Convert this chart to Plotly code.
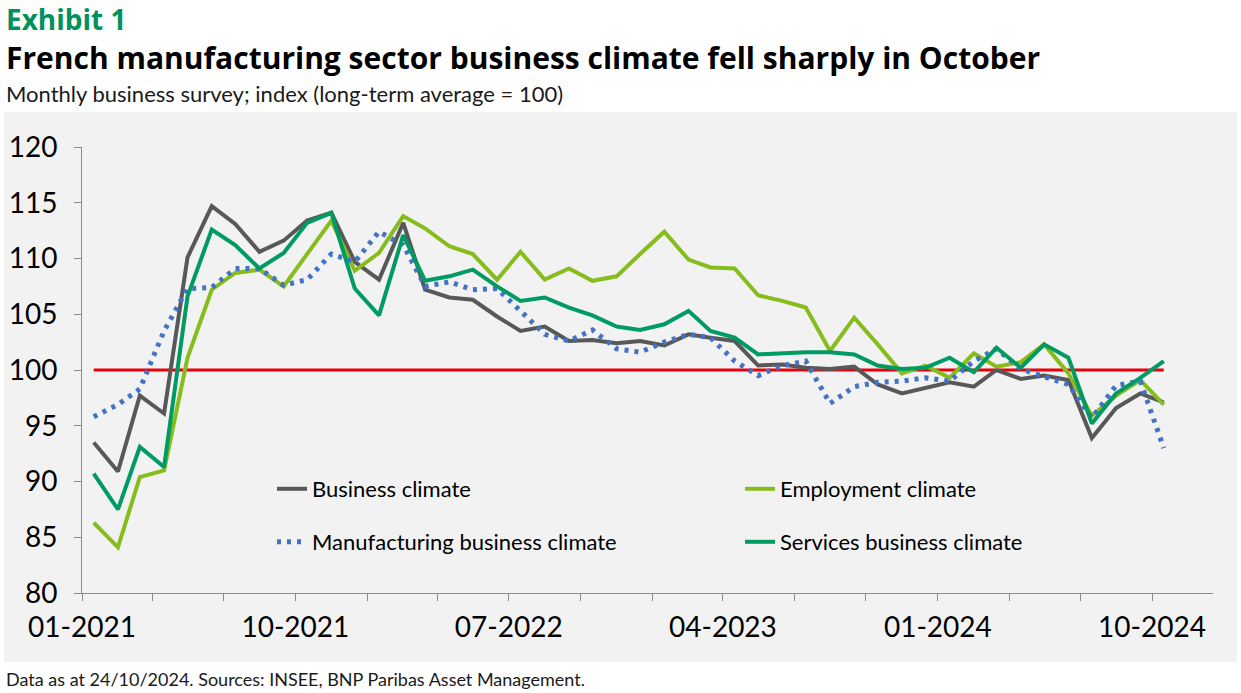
import pandas as pd
import plotly.graph_objects as go

# monthly survey, 01-2021 .. 10-2024
months = pd.date_range("2021-01-01", "2024-10-01", freq="MS")

business = [93.5, 90.9, 97.7, 96.1, 110.1, 114.7, 113.1, 110.6, 111.6, 113.4,
            114.1, 109.7, 108.1, 113.2, 107.2, 106.5, 106.3, 104.8, 103.5, 103.9,
            102.6, 102.7, 102.4, 102.6, 102.2, 103.2, 102.9, 102.6, 100.4, 100.5,
            100.2, 100.1, 100.3, 98.7, 97.9, 98.4, 98.9, 98.5, 100.0, 99.2,
            99.5, 99.1, 93.9, 96.6, 97.9, 97.1]
employment = [86.3, 84.1, 90.4, 91.0, 101.1, 107.2, 108.7, 109.0, 107.5, 110.4,
              113.4, 108.9, 110.5, 113.8, 112.7, 111.1, 110.4, 108.1, 110.6, 108.1,
              109.1, 108.0, 108.4, 110.4, 112.4, 109.9, 109.2, 109.1, 106.7, 106.2,
              105.6, 101.7, 104.7, 102.3, 99.7, 100.4, 99.3, 101.5, 100.3, 100.7,
              102.3, 99.7, 95.9, 97.7, 99.1, 96.9]
manufacturing = [95.8, 96.9, 98.3, 103.5, 107.3, 107.4, 109.1, 109.1, 107.6, 108.1,
                 110.4, 109.7, 112.4, 111.2, 107.5, 107.9, 107.2, 107.3, 105.3, 103.2,
                 102.6, 103.6, 101.9, 101.6, 102.5, 103.2, 102.9, 100.8, 99.5, 100.4,
                 100.8, 97.0, 98.5, 98.9, 99.0, 99.3, 99.0, 100.8, 101.9, 100.1,
                 99.4, 98.7, 95.7, 98.6, 99.0, 93.0]
services = [90.7, 87.5, 93.1, 91.3, 106.6, 112.6, 111.2, 109.1, 110.5, 113.2,
            114.1, 107.3, 104.9, 112.1, 108.0, 108.4, 109.0, 107.5, 106.2, 106.5,
            105.6, 104.9, 103.9, 103.6, 104.1, 105.3, 103.5, 102.9, 101.4, 101.5,
            101.6, 101.6, 101.4, 100.4, 100.1, 100.2, 101.1, 99.8, 102.0, 100.2,
            102.3, 101.1, 95.2, 97.9, 99.3, 100.8]
long_term_avg = 100

tick_dates = pd.date_range("2021-01-01", "2024-10-01", freq="3MS")
tick_text = [d.strftime("%m-%Y") if i % 3 == 0 else "" for i, d in enumerate(tick_dates)]

FONT = "Lato"
HEAD_FONT = "Open Sans"
W, H = 1241, 693
L, R, T, B = 82, 28, 147, 100
PW, PH = W - L - R, H - T - B


def px(x):
    return (x - L) / PW


def py(y):
    return (H - B - y) / PH


# points sit in the middle of their month (excel date axis look)
x = months + pd.Timedelta(days=15)

fig = go.Figure()
fig.add_trace(go.Scatter(x=x, y=[long_term_avg] * len(x), mode="lines",
                         line=dict(color="#E8000B", width=3), showlegend=False,
                         hoverinfo="skip"))
fig.add_trace(go.Scatter(x=x, y=business, mode="lines", name="Business climate",
                         line=dict(color="#58585A", width=4), legend="legend"))
fig.add_trace(go.Scatter(x=x, y=employment, mode="lines", name="Employment climate",
                         line=dict(color="#86BC1C", width=4), legend="legend"))
fig.add_trace(go.Scatter(x=x, y=manufacturing, mode="lines", name="Manufacturing business climate",
                         line=dict(color="#4472C4", width=5, dash="4px,6px"), legend="legend2"))
fig.add_trace(go.Scatter(x=x, y=services, mode="lines", name="Services business climate",
                         line=dict(color="#009A63", width=4), legend="legend2"))

legend_style = dict(orientation="h", xanchor="left", yanchor="middle",
                    bgcolor="rgba(0,0,0,0)", entrywidth=423, entrywidthmode="pixels",
                    font=dict(family=FONT, size=22, color="#000000"), traceorder="normal")

fig.update_layout(
    width=W, height=H,
    margin=dict(l=L, r=R, t=T, b=B, autoexpand=False),
    paper_bgcolor="white",
    plot_bgcolor="#F2F2F2",
    legend=dict(x=px(272), y=py(489), **legend_style),
    legend2=dict(x=px(272), y=py(542), **legend_style),
    xaxis=dict(type="date", range=["2021-01-01", "2024-12-18"],
               tickvals=tick_dates, ticktext=tick_text, automargin=False,
               showline=True, linecolor="#8C8C8C", linewidth=1,
               ticks="outside", ticklen=7, tickcolor="#8C8C8C",
               showgrid=False, zeroline=False, ticklabelstandoff=2,
               tickfont=dict(family=FONT, size=28, color="#000000")),
    yaxis=dict(range=[80, 120], dtick=5, automargin=False,
               showline=True, linecolor="#8C8C8C", linewidth=1,
               ticks="outside", ticklen=7, tickcolor="#8C8C8C",
               showgrid=False, zeroline=False, ticklabelstandoff=11,
               tickfont=dict(family=FONT, size=28, color="#000000")),
    shapes=[dict(type="rect", xref="paper", yref="paper", layer="below",
                 x0=px(4), x1=px(1237), y0=py(662), y1=py(112),
                 fillcolor="#F2F2F2", line=dict(width=0))],
    annotations=[
        dict(text="<b>Exhibit 1</b>", x=px(4), y=py(19), xref="paper", yref="paper",
             xanchor="left", yanchor="middle", showarrow=False,
             font=dict(family=HEAD_FONT, size=28, color="#00925C")),
        dict(text="<b>French manufacturing sector business climate fell sharply in October</b>",
             x=px(4), y=py(58), xref="paper", yref="paper",
             xanchor="left", yanchor="middle", showarrow=False,
             font=dict(family=HEAD_FONT, size=30, color="#000000")),
        dict(text="Monthly business survey; index (long-term average = 100)",
             x=px(4), y=py(93), xref="paper", yref="paper",
             xanchor="left", yanchor="middle", showarrow=False,
             font=dict(family=FONT, size=22, color="#1A1A1A")),
        dict(text="Data as at 24/10/2024. Sources: INSEE, BNP Paribas Asset Management.",
             x=px(4), y=py(679), xref="paper", yref="paper",
             xanchor="left", yanchor="middle", showarrow=False,
             font=dict(family=FONT, size=18, color="#1A1A1A")),
    ],
)

# drop the browser's default 8px body margin so the page lines up with the window
fig.write_html("out.html", config={"displayModeBar": False},
               post_script="document.body.style.margin='0px';")
